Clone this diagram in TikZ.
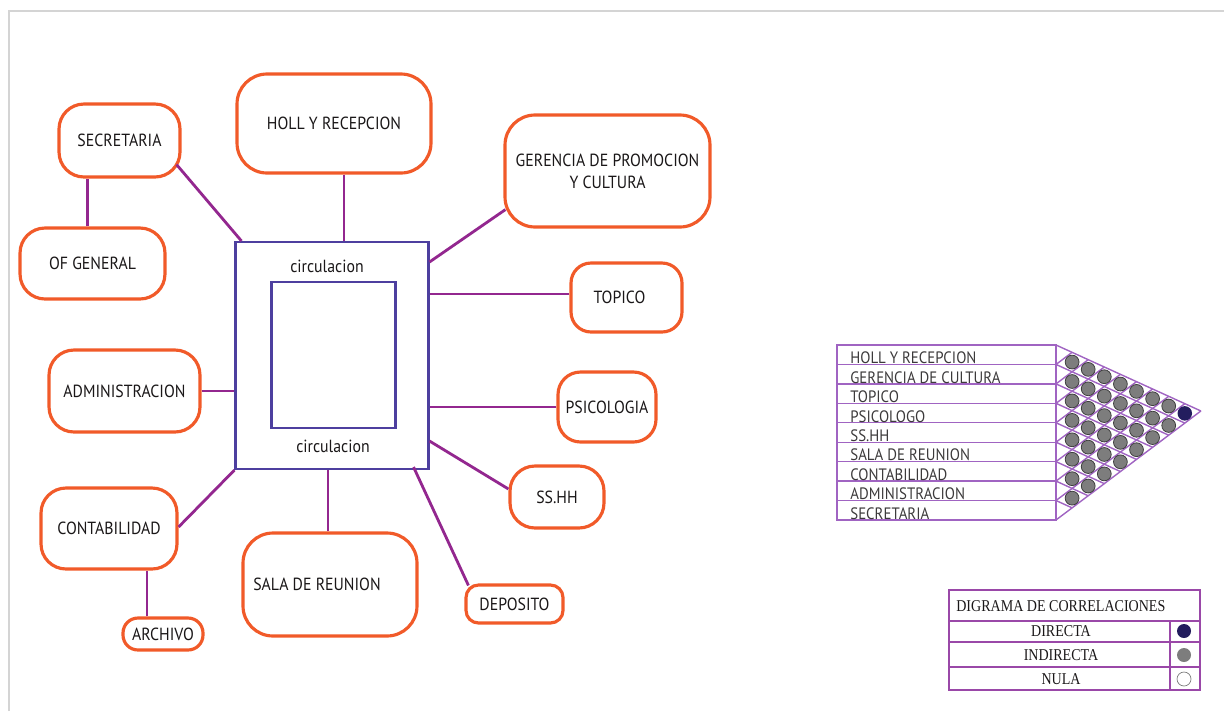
\documentclass[tikz,border=0pt]{standalone}
\usepackage{fontspec}
\usepackage{xcolor}
\usepackage{tikz}
\newfontfamily\roomfont[FakeStretch=0.9]{PT Sans}
\newfontfamily\legendfont[FakeStretch=0.85]{Liberation Serif}
\definecolor{frameline}{HTML}{D4D4D4}
\definecolor{roomline}{HTML}{F15A29}
\definecolor{wireline}{HTML}{93278F}
\definecolor{hallline}{HTML}{4D3F9F}
\definecolor{meshline}{HTML}{A064C2}
\definecolor{legline}{HTML}{9A48A8}
\definecolor{ink}{HTML}{1A1718}
\definecolor{dotfill}{HTML}{7D7D7D}
\definecolor{dotedge}{HTML}{3E3E3E}
\definecolor{directfill}{HTML}{231D5E}

\begin{document}
\begin{tikzpicture}[x=0.02cm, y=-0.02cm,
    roombox/.style={draw=roomline, line width=1.8pt, rounded corners=0.5cm, fill=white,
      inner sep=0pt, align=center, text=ink, font=\roomfont\fontsize{10}{12.5}\selectfont},
    wire/.style={draw=wireline, line width=1.6pt},
    mesh/.style={draw=meshline, line width=0.8pt}]
  \useasboundingbox (0,0) rectangle (1224,711);
  \draw[frameline, line width=1.2pt] (9,711) -- (9,11) -- (1224,11);

  \node[roombox, minimum width=2.42cm, minimum height=1.46cm] (secre) at (119.5,140.5) {SECRETARIA};
  \node[roombox, minimum width=2.9cm, minimum height=1.42cm] (ofgen) at (92.5,263.5) {OF GENERAL};
  \node[roombox, minimum width=3.88cm, minimum height=1.98cm, rounded corners=0.6cm] (holl) at (334,123.5) {HOLL Y RECEPCION};
  \node[roombox, minimum width=4.1cm, minimum height=2.24cm, rounded corners=0.6cm] (geren) at (607.5,171) {GERENCIA DE PROMOCION\\Y CULTURA};
  \node[roombox, minimum width=2.22cm, minimum height=1.38cm, rounded corners=0.4cm] (topico) at (626.5,297.5) {\hspace*{-0.28cm}TOPICO};
  \node[roombox, minimum width=1.96cm, minimum height=1.4cm, rounded corners=0.45cm] (psico) at (607,407) {PSICOLOGIA};
  \node[roombox, minimum width=1.88cm, minimum height=1.24cm] (sshh) at (557,497) {SS.HH};
  \node[roombox, minimum width=1.94cm, minimum height=0.76cm, rounded corners=0.25cm] (depo) at (514.5,604) {DEPOSITO};
  \node[roombox, minimum width=3.48cm, minimum height=2.06cm, rounded corners=0.6cm] (sala) at (330,584.5) {\hspace*{-0.52cm}SALA DE REUNION};
  \node[roombox, minimum width=1.6cm, minimum height=0.64cm, rounded corners=0.3cm] (archivo) at (163,634) {ARCHIVO};
  \node[roombox, minimum width=2.72cm, minimum height=1.62cm] (contab) at (109,528.5) {CONTABILIDAD};
  \node[roombox, minimum width=3.02cm, minimum height=1.64cm] (admin) at (124.5,391) {ADMINISTRACION};

  \node[draw=hallline, line width=1.2pt, minimum width=3.86cm, minimum height=4.54cm] (circ) at (332,355.5) {};
  \node[draw=hallline, line width=1.2pt, minimum width=2.48cm, minimum height=2.92cm] (core) at (333.5,355) {};
  \node[text=ink, font=\roomfont\fontsize{10}{11}\selectfont] (ctop) at (327,266) {circulacion};
  \node[text=ink, font=\roomfont\fontsize{10}{11}\selectfont] (cbot) at (333,446) {circulacion};

  \draw[wire] ([xshift=-0.1cm]ofgen.north) -- ([xshift=-0.1cm]ofgen.north |- secre.south);
  \draw[wire] ([xshift=-0.1cm,yshift=0.28cm]secre.south east) -- ([xshift=0.14cm]circ.north west);
  \draw[wire] ([xshift=0.2cm]holl.south) -- ([xshift=0.2cm]holl.south |- circ.north);
  \draw[wire] ([xshift=0.04cm,yshift=0.38cm]geren.south west) -- ([yshift=-0.42cm]circ.north east);
  \draw[wire] ([yshift=0.07cm]topico.west) -- ([yshift=0.07cm]topico.west -| circ.east);
  \draw[wire] (psico.west) -- (psico.west -| circ.east);
  \draw[wire] ([yshift=0.16cm]sshh.west) -- ([yshift=0.58cm]circ.south east);
  \draw[wire] ([xshift=0.08cm,yshift=-0.04cm]depo.north west) -- ([xshift=-0.32cm,yshift=0.06cm]circ.south east);
  \draw[wire] ([xshift=-0.04cm]sala.north) -- ([xshift=-0.04cm]sala.north |- circ.south);
  \draw[wire] ([yshift=0.03cm]contab.east) -- (circ.south west);
  \draw[wire] (admin.east) -- (admin.east -| circ.west);
  \draw[wire] ([xshift=-0.32cm]archivo.north) -- ([xshift=-0.32cm]archivo.north |- contab.south);

  \def\mx{1056}
  \def\my{345}
  \def\rowh{19.44}
  \def\colw{16.1}
  \def\fall{7.33}
  \def\rise{12.11}
  \draw[mesh] (837,\my) rectangle (\mx,\my+9*\rowh);
  \foreach \k in {1,...,8}
    \draw[mesh] (837,\my+\k*\rowh) -- (\mx,\my+\k*\rowh);
  \foreach \k in {0,...,9} {
    \draw[mesh] (\mx,\my+\k*\rowh) -- ++({(9-\k)*\colw},{(9-\k)*\fall});
    \draw[mesh] (\mx,\my+\k*\rowh) -- ++({\k*\colw},{-\k*\rise});
  }
  \foreach \name [count=\i] in {
      HOLL Y RECEPCION, GERENCIA DE CULTURA, TOPICO, PSICOLOGO, SS.HH,
      SALA DE REUNION, CONTABILIDAD, ADMINISTRACION, SECRETARIA
  } {
    \node[anchor=west, inner sep=0pt, text=ink!85, font=\roomfont\fontsize{9.4}{10}\selectfont]
      (item\i) at (850,\my+\i*\rowh-6.5) {\name};
  }
  \foreach \i in {1,...,8} {
    \pgfmathtruncatemacro{\nxt}{\i+1}
    \foreach \j in {\nxt,...,9} {
      \pgfmathsetmacro{\xx}{\mx+(\j-\i)*\colw}
      \pgfmathsetmacro{\yy}{\my+\i*\rowh-\rowh/2+(\j-\i)*\fall}
      \ifnum\numexpr\j-\i\relax=8
        \fill[directfill] (\xx,\yy) circle[radius=0.145cm];
      \else
        \filldraw[fill=dotfill, draw=dotedge, line width=0.45pt] (\xx,\yy) circle[radius=0.138cm];
      \fi
    }
  }

  \draw[legline, line width=1.1pt] (949,590) rectangle (1200,690);
  \foreach \y in {621,642,667}
    \draw[legline, line width=1.1pt] (949,\y) -- (1200,\y);
  \draw[legline, line width=1.1pt] (1170,621) -- (1170,690);
  \node[anchor=west, inner sep=0pt, text=ink, font=\legendfont\fontsize{9.4}{11}\selectfont] (legtitle) at (956,606) {DIGRAMA DE CORRELACIONES};
  \foreach \y/\name [count=\k] in {631/DIRECTA, 655/INDIRECTA, 679/NULA} {
    \node[inner sep=0pt, text=ink, font=\legendfont\fontsize{9.4}{11}\selectfont] (leg\k) at (1061,\y) {\name};
  }
  \fill[directfill] (1184,631) circle[radius=0.14cm];
  \fill[dotfill] (1184,655) circle[radius=0.14cm];
  \filldraw[fill=white, draw=dotfill, line width=0.4pt] (1184,679) circle[radius=0.14cm];
\end{tikzpicture}
\end{document}
